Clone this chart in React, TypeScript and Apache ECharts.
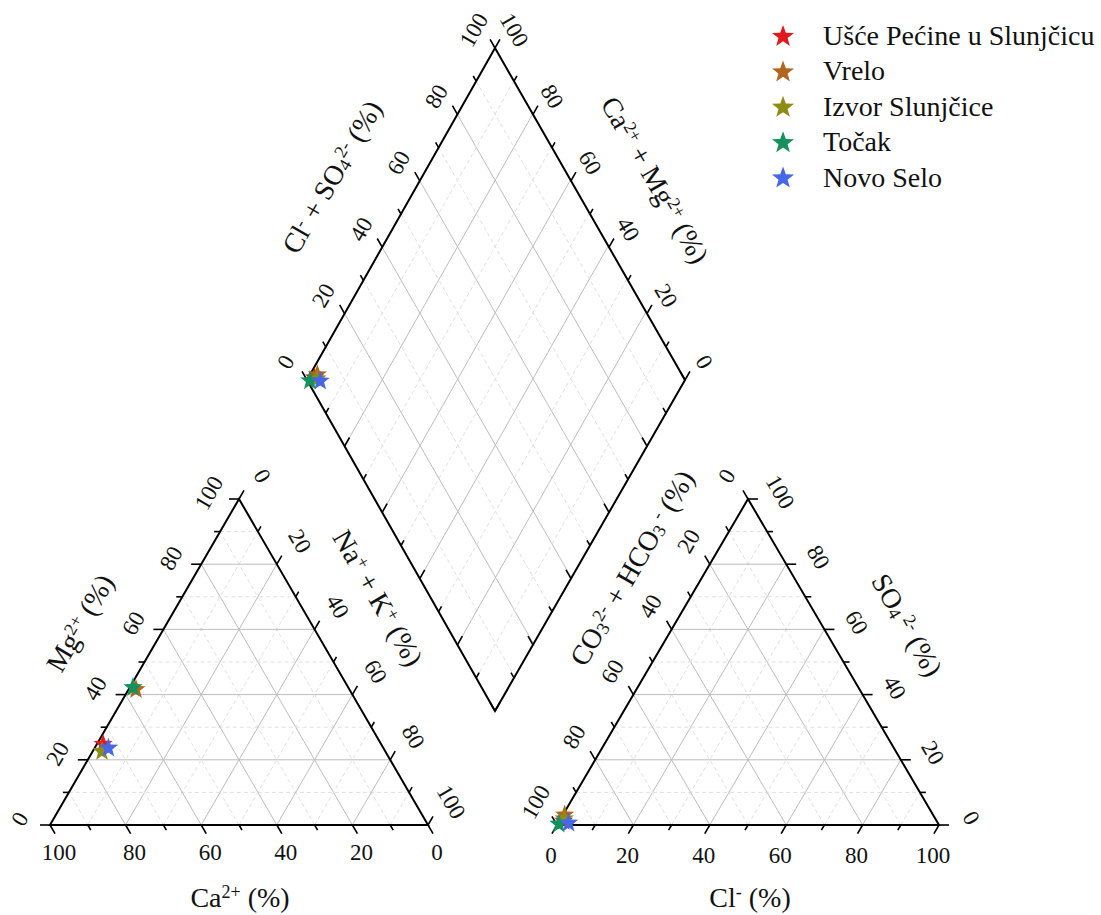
import React, { useEffect, useRef } from 'react';
import * as echarts from 'echarts';

// ---------- data ----------
const sites = ['Ušće Pećine u Slunjčicu', 'Vrelo', 'Izvor Slunjčice', 'Točak', 'Novo Selo'];
const siteColors = ['#e3191e', '#b4641c', '#8e8c14', '#14915c', '#4668e6'];
// cations (% meq)
const caPct = [73.4, 56.3, 74.8, 56.8, 72.6];
const mgPct = [25.1, 41.9, 22.9, 42.5, 23.9];
const naKPct = [1.5, 1.8, 2.3, 0.7, 3.5];
// anions (% meq)
const hco3Pct = [97.5, 96.3, 97.0, 99.2, 96.5];
const clPct = [1.0, 0.3, 0.8, 0.2, 2.6];
const so4Pct = [1.5, 3.4, 2.2, 0.6, 0.9];

const tickValues = [0, 10, 20, 30, 40, 50, 60, 70, 80, 90, 100];
const labelValues = [0, 20, 40, 60, 80, 100];
const gridValues = [10, 20, 30, 40, 50, 60, 70, 80, 90];

// ---------- layout ----------
const W = 1101;
const H = 915;
const FONT = '"Liberation Serif", "Times New Roman", serif';

type P = [number, number];
const add = (a: P, b: P): P => [a[0] + b[0], a[1] + b[1]];
const sub = (a: P, b: P): P => [a[0] - b[0], a[1] - b[1]];
const mul = (a: P, k: number): P => [a[0] * k, a[1] * k];
const lerp = (a: P, b: P, t: number): P => [a[0] + (b[0] - a[0]) * t, a[1] + (b[1] - a[1]) * t];
const unit = (a: P): P => {
  const l = Math.hypot(a[0], a[1]);
  return [a[0] / l, a[1] / l];
};

// cation triangle: A = Ca, B = Na+K, C = Mg
const CA: P = [50, 825];
const CB: P = [428, 825];
const CC: P = [239, 499];
// anion triangle: A = CO3+HCO3, B = Cl, C = SO4
const AA: P = [557, 825];
const AB: P = [939, 825];
const AC: P = [748, 499];
// diamond
const DL: P = [307, 380];
const DT: P = [495, 48];
const DR: P = [685, 380];
const DB: P = [495, 711];

const cationPoint = (i: number): P => {
  const s = caPct[i] + mgPct[i] + naKPct[i];
  const a = caPct[i] / s, b = naKPct[i] / s, c = mgPct[i] / s;
  return add(add(mul(CA, a), mul(CB, b)), mul(CC, c));
};
const anionPoint = (i: number): P => {
  const s = hco3Pct[i] + clPct[i] + so4Pct[i];
  const a = hco3Pct[i] / s, b = clPct[i] / s, c = so4Pct[i] / s;
  return add(add(mul(AA, a), mul(AB, b)), mul(AC, c));
};
const diamondPoint = (i: number): P => {
  const sa = hco3Pct[i] + clPct[i] + so4Pct[i];
  const sc = caPct[i] + mgPct[i] + naKPct[i];
  const a = (clPct[i] + so4Pct[i]) / sa;
  const n = naKPct[i] / sc;
  return add(add(DL, mul(sub(DT, DL), a)), mul(sub(DR, DT), n));
};

const starPath = (() => {
  const pts: string[] = [];
  for (let i = 0; i < 10; i++) {
    const r = i % 2 === 0 ? 10 : 4.1;
    const ang = -Math.PI / 2 + (i * Math.PI) / 5;
    pts.push(`${(r * Math.cos(ang)).toFixed(3)} ${(r * Math.sin(ang)).toFixed(3)}`);
  }
  return 'path://M' + pts.join(' L') + ' Z';
})();

interface AxisSpec {
  p0: P;
  p100: P;
  dir: P;
  labelOffset?: P;
  rot?: number;
}

const DEG = Math.PI / 180;
const axes: AxisSpec[] = [
  // cation triangle
  { p0: CB, p100: CA, dir: unit(sub(CB, CC)), labelOffset: [9, 27], rot: 0 },
  { p0: CA, p100: CC, dir: [-1, 0], labelOffset: [-30, -6], rot: 60 },
  { p0: CC, p100: CB, dir: unit(sub(CC, CA)), labelOffset: [23, -23], rot: -60 },
  // anion triangle
  { p0: AA, p100: AB, dir: unit(sub(AA, AC)), labelOffset: [-6, 30], rot: 0 },
  { p0: AC, p100: AA, dir: unit(sub(AC, AB)), labelOffset: [-21, -23], rot: 60 },
  { p0: AB, p100: AC, dir: [1, 0], labelOffset: [32, -7], rot: -60 },
  // diamond upper edges (outward) and lower edges (inward)
  { p0: DL, p100: DT, dir: unit(sub(DT, DR)), labelOffset: [-21, -18], rot: 60 },
  { p0: DR, p100: DT, dir: unit(sub(DT, DL)), labelOffset: [19, -18], rot: -60 },
  { p0: DB, p100: DL, dir: unit(sub(DT, DL)) },
  { p0: DB, p100: DR, dir: unit(sub(DT, DR)) },
];

const rich = {
  n: { fontSize: 28, fontFamily: FONT, fill: '#111' },
  s: { fontSize: 18, fontFamily: FONT, fill: '#111', verticalAlign: 'top' },
  b: { fontSize: 18, fontFamily: FONT, fill: '#111', verticalAlign: 'bottom' },
};

const titles: { text: string; pos: P; rot: number }[] = [
  { text: '{n|Ca}{s|2+}{n| (%)}', pos: [240, 897], rot: 0 },
  { text: '{n|Mg}{s|2+}{n| (%)}', pos: [80, 623], rot: 60 },
  { text: '{n|Na}{s|+}{n| + K}{s|+}{n| (%)}', pos: [378, 598], rot: -60 },
  { text: '{n|Cl}{s|-}{n| (%)}', pos: [750, 897], rot: 0 },
  { text: '{n|CO}{b|3}{s|2-}{n| + HCO}{b|3}{s| -}{n| (%)}', pos: [632, 568], rot: 60 },
  { text: '{n|SO}{b|4}{s| 2-}{n| (%)}', pos: [907, 625], rot: -60 },
  { text: '{n|Cl}{s|-}{n| + SO}{b|4}{s|2-}{n| (%)}', pos: [332, 177], rot: 60 },
  { text: '{n|Ca}{s|2+}{n| + Mg}{s|2+}{n| (%)}', pos: [655, 180], rot: -60 },
];

const renderDecor = (_params: any, api: any) => {
  const c = (p: P): P => api.coord(p);
  const children: any[] = [];
  const seg = (p1: P, p2: P, style: any) => {
    const a = c(p1), b = c(p2);
    children.push({ type: 'line', shape: { x1: a[0], y1: a[1], x2: b[0], y2: b[1] }, style });
  };
  const solid = { stroke: '#bdbdbd', lineWidth: 1 };
  const dashed = { stroke: '#e0e0e0', lineWidth: 1, lineDash: [4, 3] };

  const triGrid = (A: P, B: P, C: P) => {
    gridValues.forEach((v) => {
      const t = v / 100;
      const st = v % 20 === 0 ? solid : dashed;
      seg(lerp(A, C, t), lerp(B, C, t), st);
      seg(lerp(B, A, t), lerp(C, A, t), st);
      seg(lerp(A, B, t), lerp(C, B, t), st);
    });
  };
  triGrid(CA, CB, CC);
  triGrid(AA, AB, AC);
  gridValues.forEach((v) => {
    const t = v / 100;
    const st = v % 20 === 0 ? solid : dashed;
    const p = lerp(DL, DT, t);
    seg(p, add(p, sub(DR, DT)), st);
    const q = lerp(DL, DB, t);
    seg(q, add(q, sub(DT, DL)), st);
  });

  // frames
  const frame = (pts: P[]) => {
    children.push({
      type: 'polygon',
      shape: { points: pts.map(c) },
      style: { fill: 'none', stroke: '#000', lineWidth: 2 },
    });
  };
  frame([CA, CB, CC]);
  frame([AA, AB, AC]);
  frame([DL, DT, DR, DB]);

  // ticks & labels
  axes.forEach((ax) => {
    tickValues.forEach((v) => {
      const p = lerp(ax.p0, ax.p100, v / 100);
      const len = v % 20 === 0 ? 10 : 6;
      seg(p, add(p, mul(ax.dir, len)), { stroke: '#000', lineWidth: 1.6 });
    });
    if (ax.labelOffset) {
      labelValues.forEach((v) => {
        const p = lerp(ax.p0, ax.p100, v / 100);
        const q = c(add(p, ax.labelOffset as P));
        children.push({
          type: 'text',
          x: q[0],
          y: q[1],
          rotation: (ax.rot || 0) * DEG,
          style: {
            text: String(v),
            fontSize: 23,
            fontFamily: FONT,
            fill: '#111',
            align: 'center',
            verticalAlign: 'middle',
          },
        });
      });
    }
  });

  titles.forEach((t) => {
    const q = c(t.pos);
    children.push({
      type: 'text',
      x: q[0],
      y: q[1],
      rotation: t.rot * DEG,
      style: {
        text: t.text,
        rich,
        fontSize: 28,
        fontFamily: FONT,
        fill: '#111',
        align: 'center',
        verticalAlign: 'middle',
      },
    });
  });

  return { type: 'group', children };
};

export default function App() {
  const ref = useRef<HTMLDivElement>(null);
  useEffect(() => {
    document.body.style.margin = '0';
    if (!ref.current) return;
    const chart = echarts.init(ref.current, undefined, { renderer: 'svg' });
    const scatterSeries = sites.map((name, i) => ({
      type: 'scatter',
      name,
      data: [cationPoint(i), diamondPoint(i), anionPoint(i)],
      symbol: starPath,
      symbolSize: 19,
      itemStyle: { color: siteColors[i], opacity: 1 },
      z: 5,
    }));
    chart.setOption({
      animation: false,
      backgroundColor: '#fff',
      grid: { left: 0, right: 0, top: 0, bottom: 0, containLabel: false },
      xAxis: { type: 'value', min: 0, max: W, show: false },
      yAxis: { type: 'value', min: 0, max: H, inverse: true, show: false },
      legend: {
        data: sites,
        orient: 'vertical',
        left: 772,
        top: 21.5,
        padding: 0,
        itemWidth: 70,
        itemHeight: 21,
        itemGap: 7.4,
        icon: starPath,
        symbolKeepAspect: true,
        selectedMode: false,
        textStyle: { fontSize: 28, fontFamily: FONT, color: '#111' },
      },
      series: [
        {
          type: 'custom',
          name: 'frame',
          renderItem: renderDecor,
          data: [[0, 0]],
          silent: true,
          clip: false,
          z: 1,
        },
        ...scatterSeries,
      ],
    });
    return () => chart.dispose();
  }, []);
  return <div ref={ref} style={{ width: W, height: H }} />;
}
